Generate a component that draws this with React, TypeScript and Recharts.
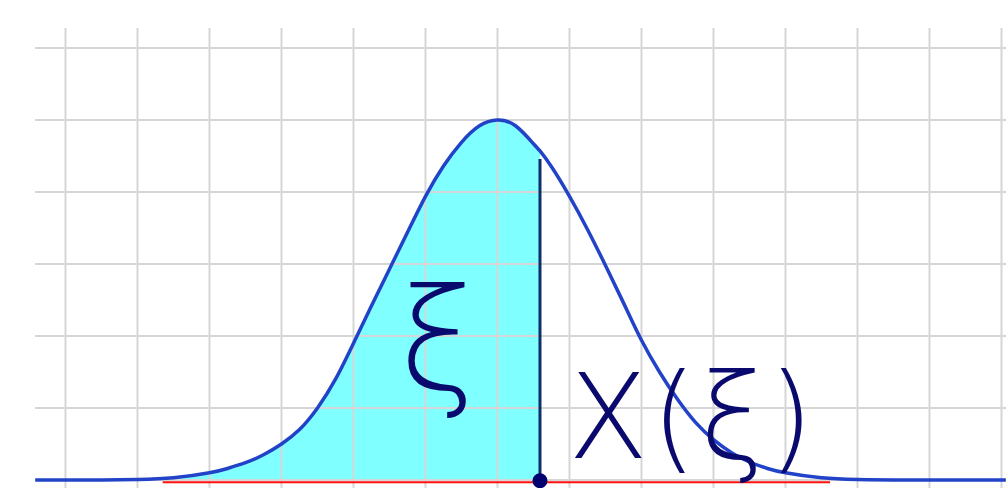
import React from 'react';
import {
  ComposedChart,
  Line,
  Area,
  XAxis,
  YAxis,
  ReferenceLine,
  ReferenceDot,
} from 'recharts';

// Curve sample positions (grid units, peak at 0) and heights
const xValues = [
  -6.42, -6, -5.5, -5, -4.5, -4, -3.75, -3.5, -3.25, -3, -2.75, -2.5, -2.25, -2, -1.75, -1.5,
  -1.25, -1, -0.75, -0.5, -0.25, 0, 0.25, 0.5, 0.59, 0.75, 1, 1.25, 1.5, 1.75, 2, 2.25, 2.5,
  2.75, 3, 3.25, 3.5, 3.75, 4, 4.5, 5, 5.5, 6, 7.06,
];
const curveValues = [
  0, 0, 0, 0.006, 0.03, 0.1, 0.16, 0.24, 0.35, 0.5, 0.7, 1.0, 1.4, 1.9, 2.42, 2.93,
  3.44, 3.94, 4.36, 4.69, 4.92, 5.0, 4.92, 4.67, 4.57, 4.35, 3.94, 3.48, 2.98, 2.46, 1.94, 1.5,
  1.12, 0.8, 0.56, 0.38, 0.25, 0.16, 0.1, 0.03, 0.006, 0, 0, 0,
];

// The cut (ξ) and its marker
const cutoffX = 0.59;
const cutoffTop = 4.46;
const axisStart = -4.65;
const axisEnd = 4.62;
const axisLevel = -0.03;

const xTicks = [-6, -5, -4, -3, -2, -1, 0, 1, 2, 3, 4, 5, 6, 7];
const yTicks = [0, 1, 2, 3, 4, 5, 6];

const labelXiText = 'ξ';
const labelXText = 'X(ξ)';

const data = xValues.map((x, i) => ({
  x,
  curve: curveValues[i],
  shaded: x <= cutoffX ? curveValues[i] : null,
}));

const INK = '#0a0a6e';
const GRID = '#d6d6d6';

const textRenderer =
  (text: string, size: number, anchor: 'start' | 'middle', spacing = 0) =>
  (props: any) => {
    const vb = props.viewBox || {};
    return (
      <text
        x={vb.x}
        y={vb.y}
        fill={INK}
        fontSize={size}
        fontFamily="'DejaVu Sans', sans-serif"
        fontWeight={200}
        textAnchor={anchor}
        letterSpacing={spacing}
      >
        {text}
      </text>
    );
  };

export default function App() {
  return (
    <div style={{ position: 'absolute', left: 0, top: 0, width: 1006, height: 488, background: '#fff' }}>
      <ComposedChart
        width={1006}
        height={488}
        data={data}
        margin={{ top: 28, right: 0, bottom: 0, left: 35 }}
      >
        <XAxis
          dataKey="x"
          type="number"
          domain={[-6.4236, 7.0625]}
          ticks={xTicks}
          allowDataOverflow
          hide
        />
        <YAxis type="number" domain={[-0.1111, 6.2778]} ticks={yTicks} allowDataOverflow hide />
        {xTicks.map((t) => (
          <ReferenceLine key={`vx${t}`} x={t} stroke={GRID} strokeWidth={2} />
        ))}
        {yTicks.map((t) => (
          <ReferenceLine key={`hy${t}`} y={t} stroke={GRID} strokeWidth={2} />
        ))}
        <Area
          type="natural"
          dataKey="shaded"
          stroke="none"
          fill="#7fffff"
          fillOpacity={1}
          baseValue={0}
          isAnimationActive={false}
          connectNulls={false}
        />
        <ReferenceLine
          segment={[
            { x: axisStart, y: axisLevel },
            { x: axisEnd, y: axisLevel },
          ]}
          stroke="#ff1010"
          strokeWidth={2}
        />
        <Line
          type="natural"
          dataKey="curve"
          stroke="#2243c8"
          strokeWidth={3.5}
          dot={false}
          activeDot={false}
          isAnimationActive={false}
        />
        <ReferenceLine
          segment={[
            { x: cutoffX, y: 0 },
            { x: cutoffX, y: cutoffTop },
          ]}
          stroke="#0e2d6b"
          strokeWidth={3}
        />
        <ReferenceDot x={cutoffX} y={-0.01} r={7.5} fill="#000070" stroke="none" />
        <ReferenceDot
          x={-0.83}
          y={1.26}
          r={0}
          stroke="none"
          label={textRenderer(labelXiText, 140, 'middle')}
        />
        <ReferenceDot
          x={0.98}
          y={0.31}
          r={0}
          stroke="none"
          label={textRenderer(labelXText, 117, 'start', 3)}
        />
      </ComposedChart>
    </div>
  );
}
